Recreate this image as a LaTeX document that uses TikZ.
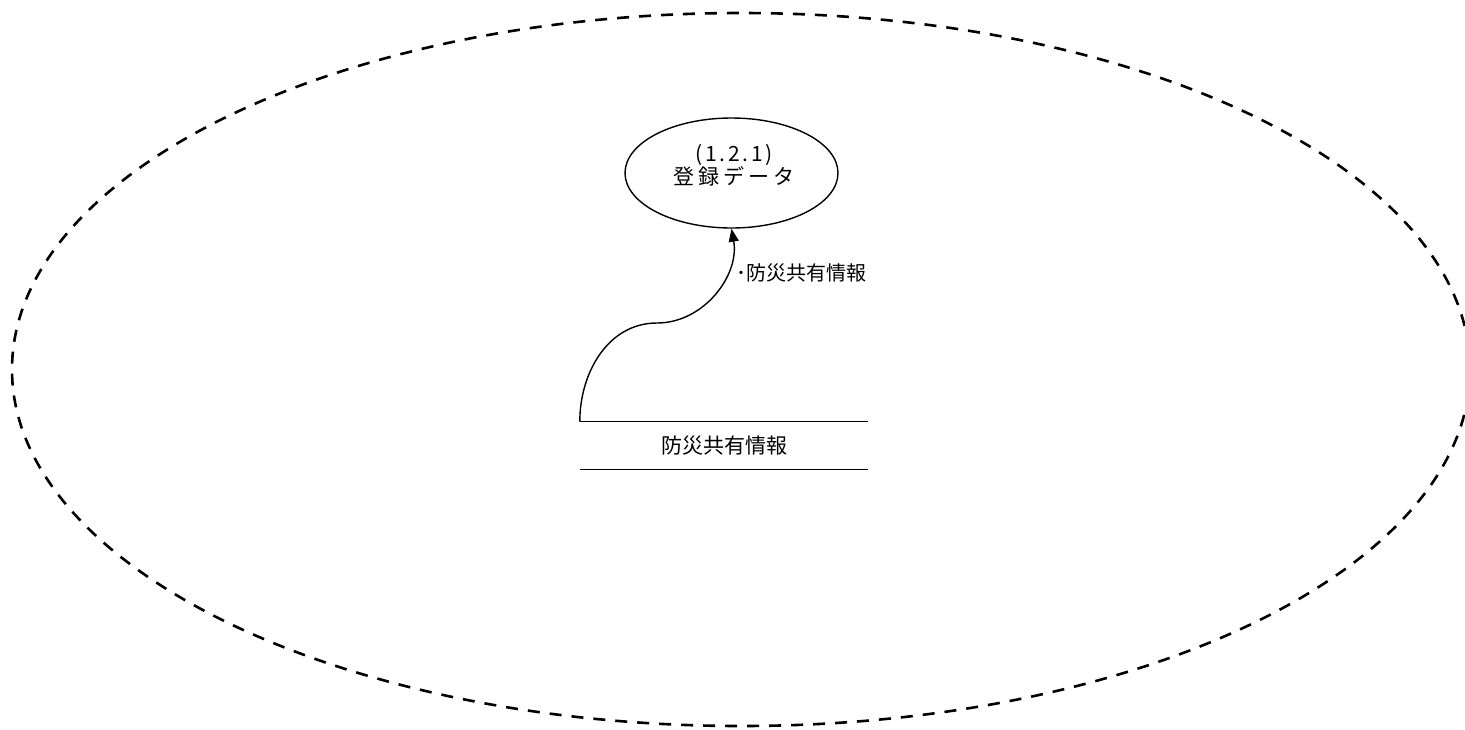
\documentclass[tikz,border=0pt]{standalone}
\usepackage{fontspec}
\setmainfont{Noto Sans CJK JP}
\newfontfamily\wideA[LetterSpace=20]{Noto Sans CJK JP}
\newfontfamily\wideB[LetterSpace=13]{Noto Sans CJK JP}
\usetikzlibrary{shapes.geometric,arrows.meta}
\tikzset{
  process/.style={draw, ellipse, line width=1.4pt, minimum width=213pt, minimum height=110pt, inner sep=0pt},
  proctext/.style={align=center, inner sep=0pt, font=\fontsize{21}{23}\selectfont},
  storebox/.style={draw=none, minimum width=288pt, minimum height=47.5pt, inner sep=0pt, font=\fontsize{21}{24}\selectfont},
  storeline/.style={line width=1.4pt},
  flow/.style={line width=1.4pt, -{Triangle[length=13pt,width=10pt]}},
  flowlabel/.style={font=\fontsize{20}{22}\selectfont, inner sep=0pt},
  boundary/.style={line width=2.6pt, dash pattern=on 12pt off 10pt}
}
\begin{document}
\begin{tikzpicture}[x=1pt,y=-1pt]
\useasboundingbox (0,0) rectangle (1465,729);
\draw[boundary] (741,369.5) ellipse [x radius=729pt, y radius=356.5pt];
\node[process] (proc) at (731.5,173) {};
\node[proctext] (title) at (734,165) {{\wideB (1.2.1)}\\{\wideA 登録データ}};
\node[storebox] (store) at (724,445.5) {防災共有情報};
\draw[storeline] (store.north west) -- (store.north east);
\draw[storeline] (store.south west) -- (store.south east);
\coordinate (mid) at (657,323);
\draw[flow] (store.north west) to[out=90,in=180] (mid) to[out=0,in=-80] (proc.south);
\node[flowlabel] (lbl) at (801,273) {･防災共有情報};
\end{tikzpicture}
\end{document}
